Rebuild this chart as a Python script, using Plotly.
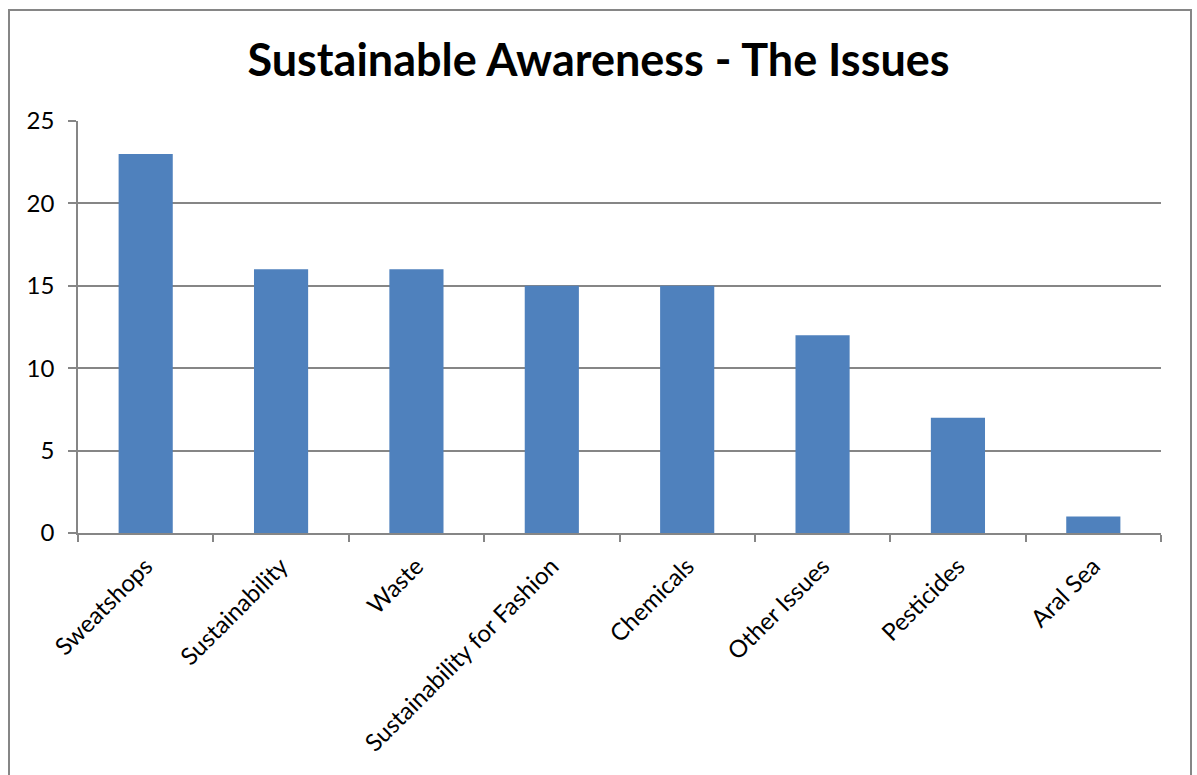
import plotly.graph_objects as go

categories = ["Sweatshops", "Sustainability", "Waste", "Sustainability for Fashion",
              "Chemicals", "Other Issues", "Pesticides", "Aral Sea"]
counts = [23, 16, 16, 15, 15, 12, 7, 1]
y_ticks = [0, 5, 10, 15, 20, 25]

W, H = 1197, 775
ML, MR, MT, MB = 78, 36, 121, 242
pw, ph = W - ML - MR, H - MT - MB

def px_x(p):
    return (p - ML) / pw

def px_y(p):
    return (H - MB - p) / ph

grey = "#868686"
font = "Lato, Calibri, sans-serif"

fig = go.Figure(go.Bar(x=categories, y=counts, marker_color="#4F81BD",
                       marker_line_width=0))

fig.update_layout(
    width=W, height=H,
    margin=dict(l=ML, r=MR, t=MT, b=MB),
    paper_bgcolor="white", plot_bgcolor="white",
    bargap=0.6,
    showlegend=False,
    font=dict(family=font, color="black", size=24),
    title=dict(text="<b>Sustainable Awareness - The Issues</b>",
               x=0.5, xref="container", xanchor="center",
               y=(H - 60) / H, yanchor="middle",
               font=dict(size=45, family=font, color="black")),
    xaxis=dict(tickangle=-45, ticks="outside", ticklen=7, tickwidth=1.5,
               tickcolor=grey, tickson="boundaries", showline=True,
               linecolor=grey, linewidth=1.5, showgrid=False,
               tickfont=dict(size=24), ticklabelstandoff=8),
    yaxis=dict(range=[0, 25], tickvals=y_ticks, ticks="outside", ticklen=8,
               tickwidth=1.5, tickcolor=grey, showline=True, linecolor=grey,
               linewidth=1.5, showgrid=True, gridcolor=grey, gridwidth=1.5,
               zeroline=False, tickfont=dict(size=24), ticklabelstandoff=9),
    shapes=[dict(type="rect", xref="paper", yref="paper",
                 x0=px_x(9), x1=px_x(1191), y0=px_y(790), y1=px_y(10),
                 line=dict(color=grey, width=2), fillcolor="rgba(0,0,0,0)",
                 layer="below")],
)

fig.write_html("out.html")
